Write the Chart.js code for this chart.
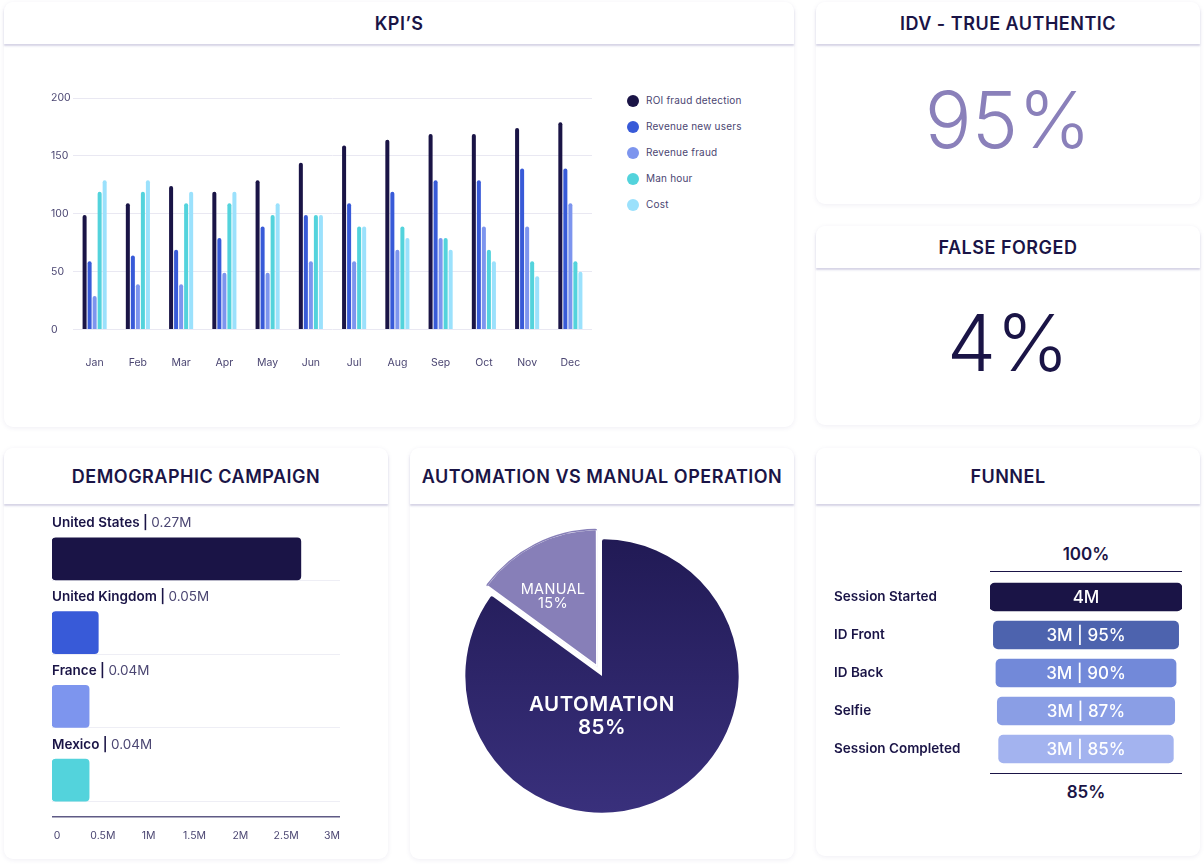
<!DOCTYPE html>
<html>
<head>
<meta charset="utf-8">
<title>Dashboard</title>
<script src="https://cdn.jsdelivr.net/npm/chart.js@4"></script>
<style>
  html, body { margin: 0; padding: 0; background: #fff; }
  body { width: 1204px; height: 865px; position: relative; overflow: hidden;
         font-family: Inter, "Open Sans", sans-serif; color: #1a1446; }
  .card { position: absolute; background: #fff; border-radius: 9px;
          box-shadow: 0 1px 5px rgba(50,40,120,.08); }
  .card h2 { margin: 0; height: 100%; font-size: 18px; font-weight: 600; letter-spacing: .5px;
             display: flex; align-items: center; justify-content: center; }
  .head { position: absolute; left: 0; right: 0; top: 0; background: #fff; border-radius: 9px 9px 0 0;
          box-shadow: 0 2px 2px rgba(70,60,140,.22); }
  .big { position: absolute; left: 0; right: 0; text-align: center; font-size: 78px; font-weight: 300; line-height: 90px; }
  canvas { position: absolute; }
  .abs { position: absolute; white-space: nowrap; }
  .legend-dot { position: absolute; width: 12px; height: 12px; border-radius: 50%; }
  .legend-text { font-size: 10px; color: #4b4672; letter-spacing: .2px; line-height: 12px; }
  .demo-label { left: 52px; font-size: 13.5px; line-height: 16px; font-weight: 600; }
  .demo-label span { font-weight: 400; color: #4b4672; }
  .pie-text { color: #fff; text-align: center; transform: translateX(-50%); }
  .rule { position: absolute; left: 990px; width: 192px; height: 1px; background: #1a1446; }
  .pct { width: 192px; left: 990px; text-align: center; font-size: 17px; font-weight: 600; line-height: 20px; }
</style>
</head>
<body>

<div class="card" style="left:4px;top:2px;width:790px;height:425px"><div class="head" style="height:42px"><h2>KPI’S</h2></div></div>
<div class="card" style="left:816px;top:2px;width:384px;height:202px"><div class="head" style="height:42px"><h2>IDV - TRUE AUTHENTIC</h2></div>
  <div class="big" style="top:73px;color:#8a80ba">95%</div></div>
<div class="card" style="left:816px;top:226px;width:384px;height:199px"><div class="head" style="height:42px"><h2>FALSE FORGED</h2></div>
  <div class="big" style="top:72px;color:#1a1446">4%</div></div>
<div class="card" style="left:4px;top:448px;width:384px;height:411px"><div class="head" style="height:56px"><h2>DEMOGRAPHIC CAMPAIGN</h2></div></div>
<div class="card" style="left:410px;top:448px;width:384px;height:411px"><div class="head" style="height:56px"><h2>AUTOMATION VS MANUAL OPERATION</h2></div></div>
<div class="card" style="left:816px;top:448px;width:384px;height:408px"><div class="head" style="height:56px"><h2>FUNNEL</h2></div></div>

<canvas id="kpi-chart" width="541" height="290" style="left:51px;top:80px"></canvas>
<div id="kpi-legend"></div>

<canvas id="demo-chart" width="288" height="328" style="left:52px;top:522px"></canvas>
<div id="demo-labels"></div>

<canvas id="pie-chart" width="360" height="360" style="left:422px;top:496px"></canvas>
<div class="abs pie-text" style="left:602px;top:692px;font-size:20.5px;line-height:23px;font-weight:600;letter-spacing:.5px">AUTOMATION<br>85%</div>
<div class="abs pie-text" style="left:553px;top:582px;font-size:14.5px;line-height:14px;letter-spacing:.3px">MANUAL<br>15%</div>

<div class="abs pct" style="top:544px">100%</div>
<div class="rule" style="top:571px"></div>
<canvas id="funnel-chart" width="348" height="190" style="left:834px;top:578px"></canvas>
<div class="rule" style="top:773px"></div>
<div class="abs pct" style="top:782px">85%</div>

<script>
/* ---- KPI's ---- */
const months       = ['Jan','Feb','Mar','Apr','May','Jun','Jul','Aug','Sep','Oct','Nov','Dec'];
const roiFraud     = [99,109,124,119,129,144,159,164,169,169,174,179];
const revenueNew   = [59,64,69,79,89,99,109,119,129,129,139,139];
const revenueFraud = [29,39,39,49,49,59,59,69,79,89,89,109];
const manHour      = [119,119,109,109,99,99,89,89,79,69,59,59];
const cost         = [129,129,119,119,109,99,89,79,69,59,46,50];
const kpiNames     = ['ROI fraud detection','Revenue new users','Revenue fraud','Man hour','Cost'];
const kpiColors    = ['#1a1446','#385ad8','#7d95ee','#53d3dc','#9be1fc'];
const kpiTicks     = [0,50,100,150,200];

/* ---- Demographic ---- */
const countries    = ['United States','United Kingdom','France','Mexico'];
const countryText  = ['0.27M','0.05M','0.04M','0.04M'];
const countryBars  = [2.66,0.45,0.35,0.35];
const countryTicks = [0,0.5,1,1.5,2,2.5,3];
const countryCols  = ['#1a1446','#385ad8','#7d95ee','#53d3dc'];

/* ---- Automation vs manual ---- */
const opNames  = ['AUTOMATION','MANUAL'];
const opValues = [85,15];

/* ---- Funnel ---- */
const steps      = ['Session Started','ID Front','ID Back','Selfie','Session Completed'];
const stepWidths = [100,96.5,93.8,92.4,91];
const stepText   = ['4M','3M | 95%','3M | 90%','3M | 87%','3M | 85%'];
const stepCols   = ['#1a1446','#4d63ae','#7289d9','#8a9ee5','#a3b3ef'];

Chart.defaults.font.family = 'Inter, "Open Sans", sans-serif';
Chart.defaults.color = '#4b4672';
Chart.defaults.animation = false;
Chart.defaults.responsive = false;
Chart.defaults.plugins.legend.display = false;
Chart.defaults.plugins.tooltip.enabled = false;

// the plot area must keep its full size, whatever the edge labels need
function noLabelMargins(s) {
  s.paddingLeft = s.paddingRight = s.paddingTop = s.paddingBottom = 0;
}

new Chart(document.getElementById('kpi-chart'), {
  type: 'bar',
  data: {
    labels: months,
    datasets: [roiFraud, revenueNew, revenueFraud, manHour, cost].map((d, i) => ({
      label: kpiNames[i],
      data: d,
      backgroundColor: kpiColors[i],
      borderRadius: { topLeft: 2, topRight: 2 },
      borderSkipped: 'bottom',
      categoryPercentage: 0.58,
      barPercentage: 0.8,
    })),
  },
  options: {
    layout: { padding: { top: 18 } },
    scales: {
      x: {
        afterFit: s => { s.height = 40.5; noLabelMargins(s); },
        grid: { display: false },
        border: { display: false },
        ticks: { padding: 19, font: { size: 10.5 }, autoSkip: false, maxRotation: 0 },
      },
      y: {
        min: 0, max: 200,
        afterFit: s => { s.width = 22; noLabelMargins(s); },
        afterBuildTicks: s => { s.ticks = kpiTicks.map(v => ({ value: v })); },
        grid: { color: '#e9e8f2', lineWidth: 1, drawTicks: false },
        border: { display: false },
        ticks: { crossAlign: 'far', font: { size: 10.5 } },
      },
    },
  },
});

document.getElementById('kpi-legend').innerHTML = kpiNames.map((n, i) => `
  <div class="legend-dot" style="left:627px;top:${95 + i * 26}px;background:${kpiColors[i]}"></div>
  <div class="abs legend-text" style="left:646px;top:${94 + i * 26}px">${n}</div>`).join('');

// light rule under each country bar
const barRules = {
  id: 'barRules',
  beforeDatasetsDraw(chart) {
    const { ctx, chartArea } = chart;
    ctx.save();
    ctx.strokeStyle = '#eeeef5';
    ctx.lineWidth = 1;
    chart.getDatasetMeta(0).data.forEach(bar => {
      const y = Math.round(bar.y + bar.height / 2) + 0.5;
      ctx.beginPath();
      ctx.moveTo(chartArea.left, y);
      ctx.lineTo(chartArea.right, y);
      ctx.stroke();
    });
    ctx.restore();
  },
};

new Chart(document.getElementById('demo-chart'), {
  type: 'bar',
  plugins: [barRules],
  data: {
    labels: countries,
    datasets: [{
      data: countryBars,
      base: -0.055,
      backgroundColor: countryCols,
      borderRadius: 4,
      borderSkipped: false,
      barThickness: 42,
    }],
  },
  options: {
    indexAxis: 'y',
    scales: {
      x: {
        min: -0.055, max: 3.087,
        afterBuildTicks: s => { s.ticks = countryTicks.map(v => ({ value: v })); },
        afterFit: s => { s.height = 33; noLabelMargins(s); },
        grid: { display: false },
        border: { color: '#5f5a85', width: 1.5 },
        ticks: {
          padding: 5, font: { size: 10.5 }, maxRotation: 0, autoSkip: false,
          callback: v => (v === 0 ? '0' : v + 'M'),
        },
      },
      y: {
        afterFit: s => { s.width = 0; noLabelMargins(s); },
        grid: { display: false },
        border: { display: false },
        ticks: { display: false },
      },
    },
  },
});

document.getElementById('demo-labels').innerHTML = countries.map((c, i) =>
  `<div class="abs demo-label" style="top:${514 + i * 74}px">${c} | <span>${countryText[i]}</span></div>`).join('');

new Chart(document.getElementById('pie-chart'), {
  type: 'pie',
  data: {
    labels: opNames,
    datasets: [{
      data: opValues,
      backgroundColor: c => {
        if (c.dataIndex === 1) return '#877fb8';
        const g = c.chart.ctx.createLinearGradient(0, 43, 0, 317);
        g.addColorStop(0, '#211a55');
        g.addColorStop(1, '#39307c');
        return g;
      },
      borderWidth: [0, 1.5],
      borderColor: '#fff',
      borderAlign: 'inner',
      borderRadius: 2,
      offset: [0, 39],
      radius: 137,
    }],
  },
});

// step text drawn inside the funnel bars
const stepLabels = {
  id: 'stepLabels',
  afterDatasetsDraw(chart) {
    const { ctx } = chart;
    ctx.save();
    ctx.fillStyle = '#fff';
    ctx.font = '500 17px Inter, "Open Sans", sans-serif';
    ctx.textAlign = 'center';
    ctx.textBaseline = 'middle';
    chart.getDatasetMeta(0).data.forEach((bar, i) => {
      ctx.fillText(stepText[i], (bar.base + bar.x) / 2, bar.y + 0.5);
    });
    ctx.restore();
  },
};

new Chart(document.getElementById('funnel-chart'), {
  type: 'bar',
  plugins: [stepLabels],
  data: {
    labels: steps,
    datasets: [{
      data: stepWidths.map(w => [-w / 2, w / 2]),
      backgroundColor: stepCols,
      borderRadius: 5,
      borderSkipped: false,
      barThickness: 28,
    }],
  },
  options: {
    indexAxis: 'y',
    scales: {
      x: {
        min: -50, max: 50,
        display: false,
      },
      y: {
        afterFit: s => { s.width = 156; noLabelMargins(s); },
        grid: { display: false },
        border: { display: false },
        ticks: { crossAlign: 'far', color: '#1a1446', font: { size: 13.5, weight: '600' }, autoSkip: false },
      },
    },
  },
});
</script>
</body>
</html>
